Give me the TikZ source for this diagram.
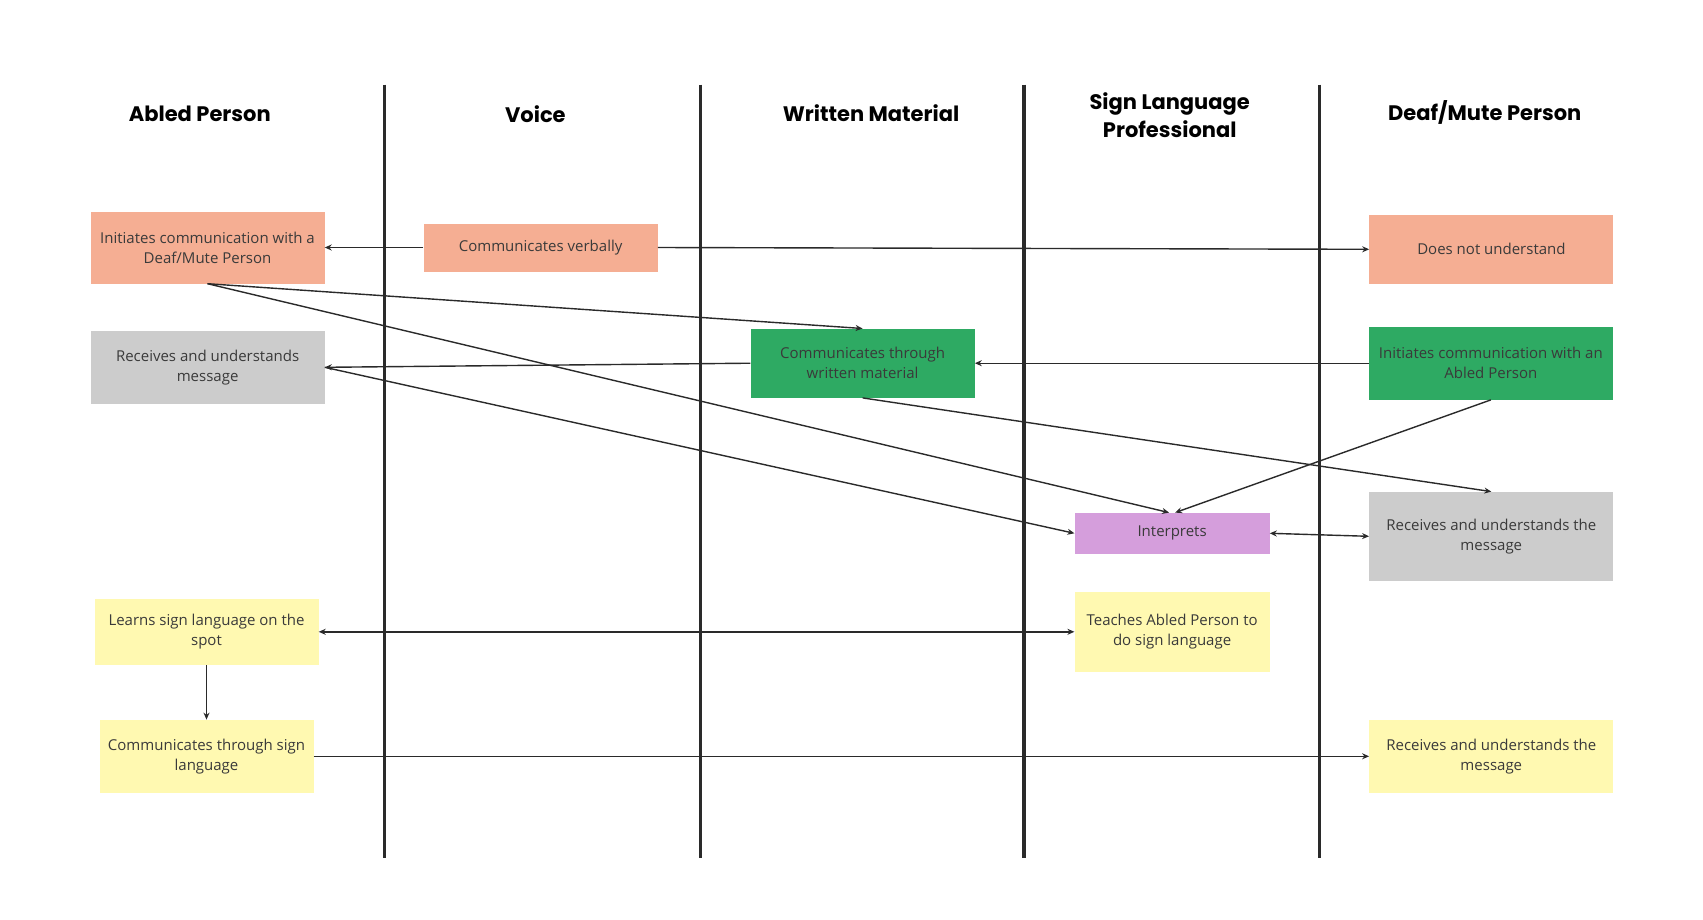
\documentclass[tikz,border=0pt]{standalone}
\usepackage{fontspec}
\setmainfont{Open Sans}
\newfontfamily\headfont{Poppins}
\usetikzlibrary{arrows.meta}
\definecolor{cOrange}{HTML}{F5AE93}
\definecolor{cGray}{HTML}{CCCCCC}
\definecolor{cGreen}{HTML}{2EAA63}
\definecolor{cPurple}{HTML}{D59EDC}
\definecolor{cYellow}{HTML}{FFF9B1}
\definecolor{cInk}{HTML}{2A2A2A}
\definecolor{cText}{HTML}{3A3A3A}
\tikzset{
  box/.style={rectangle, inner sep=0pt, align=center, text=cText,
    font=\fontsize{15}{20}\selectfont},
  header/.style={align=center, text=black,
    font=\headfont\bfseries\fontsize{21}{28}\selectfont},
  lane/.style={line width=3.5pt, draw=cInk},
  link/.style={line width=1.4pt, draw=cInk, -{Stealth[length=7pt,width=6pt]}},
  link2/.style={line width=1.4pt, draw=cInk, {Stealth[length=7pt,width=6pt]}-{Stealth[length=7pt,width=6pt]}},
}
\begin{document}
\begin{tikzpicture}[x=1pt,y=-1pt]
\useasboundingbox (0,0) rectangle (1703,919);

% swimlane separators
\draw[lane] (384.5,84.7) -- (384.5,858);
\draw[lane] (700.5,84.7) -- (700.5,858);
\draw[lane] (1024.2,84.7) -- (1024.2,858);
\draw[lane] (1319.6,84.7) -- (1319.6,858);

% lane titles
\node[header] (hAbled) at (199.8,114) {Abled Person};
\node[header] (hVoice) at (535.4,114) {Voice};
\node[header] (hWritten) at (871,113) {Written Material};
\node[header] (hSign) at (1169.7,115) {Sign Language\\Professional};
\node[header] (hDeaf) at (1484.7,112) {Deaf/Mute Person};

% activity boxes
\node[box, fill=cOrange, minimum width=234pt, minimum height=72pt] (init) at (207.5,247.5)
  {Initiates communication with a\\Deaf/Mute Person};
\node[box, fill=cOrange, minimum width=234pt, minimum height=48pt] (verb) at (540.6,247.5)
  {Communicates verbally};
\node[box, fill=cOrange, minimum width=244pt, minimum height=69pt] (dnu) at (1491.4,249.3)
  {Does not understand};
\node[box, fill=cGray, minimum width=234pt, minimum height=73pt] (recvA) at (207.6,367.3)
  {Receives and understands\\message};
\node[box, fill=cGreen, minimum width=224pt, minimum height=69pt] (wrt) at (862.6,363.2)
  {Communicates through\\written material};
\node[box, fill=cGreen, minimum width=244pt, minimum height=73pt] (dinit) at (1490.8,363.2)
  {Initiates communication with an\\Abled Person};
\node[box, fill=cPurple, minimum width=195pt, minimum height=41pt] (interp) at (1172.1,533.3)
  {Interprets};
\node[box, fill=cGray, minimum width=244pt, minimum height=89pt] (recvB) at (1491.3,536.3)
  {Receives and understands the\\message};
\node[box, fill=cYellow, minimum width=195pt, minimum height=80pt] (teach) at (1172.1,631.8)
  {Teaches Abled Person to\\do sign language};
\node[box, fill=cYellow, minimum width=224pt, minimum height=66pt] (learn) at (206.5,631.8)
  {Learns sign language on the\\spot};
\node[box, fill=cYellow, minimum width=214pt, minimum height=73pt] (csign) at (206.5,756.3)
  {Communicates through sign\\language};
\node[box, fill=cYellow, minimum width=244pt, minimum height=73pt] (recvC) at (1491.3,756.3)
  {Receives and understands the\\message};

% message flows
\draw[link] (verb.west) -- (init.east);
\draw[link] (verb.east) -- (dnu.west);
\draw[link] (init.south) -- (wrt.north);
\draw[link] (init.south) -- ([xshift=-3pt]interp.north);
\draw[link] (wrt.west) -- (recvA.east);
\draw[link] (dinit.west) -- (wrt.east);
\draw[link] (wrt.south) -- (recvB.north);
\draw[link] (dinit.south) -- ([xshift=3pt]interp.north);
\draw[link] (recvA.east) -- (interp.west);
\draw[link2] (interp.east) -- (recvB.west);
\draw[link2] (learn.east) -- (teach.west);
\draw[link] (learn.south) -- (csign.north);
\draw[link] (csign.east) -- (recvC.west);
\end{tikzpicture}
\end{document}
